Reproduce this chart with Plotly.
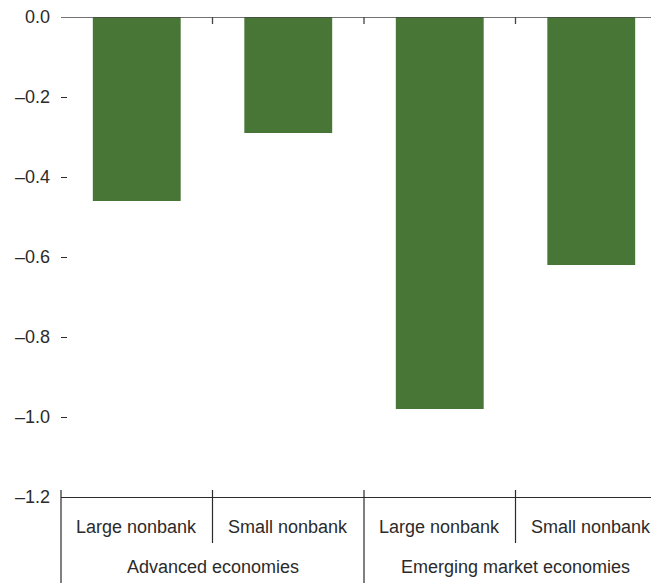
import plotly.graph_objects as go

groups = ["Advanced economies", "Advanced economies",
          "Emerging market economies", "Emerging market economies"]
subcats = ["Large nonbank", "Small nonbank", "Large nonbank", "Small nonbank"]
values = [-0.46, -0.29, -0.98, -0.62]
y_ticks = [0.0, -0.2, -0.4, -0.6, -0.8, -1.0, -1.2]
y_labels = ["0.0", "–0.2", "–0.4", "–0.6", "–0.8", "–1.0", "–1.2"]

BAR = "#487637"
INK = "#2b2b2b"
FONT = "Liberation Sans Narrow, Arial Narrow, sans-serif"
FS = 18

x = list(range(len(values)))

fig = go.Figure(go.Bar(x=x, y=values, width=0.58, marker=dict(color=BAR, line=dict(width=0)),
                       hoverinfo="skip"))

plot_h = 480.0
shapes = []
# top zero line with ticks at category boundaries
shapes.append(dict(type="line", xref="paper", yref="y", x0=0, x1=1, y0=0, y1=0,
                   line=dict(color="#444", width=1.3)))
for i in range(len(x) - 1):
    b = i + 0.5
    shapes.append(dict(type="line", xref="x", yref="y", x0=b, x1=b, y0=0, y1=-7 / 400,
                       line=dict(color="#444", width=1.3)))
    same_group = groups[i] == groups[i + 1]
    depth = 46 if same_group else 94
    shapes.append(dict(type="line", xref="x", yref="paper", x0=b, x1=b, y0=7 / plot_h,
                       y1=-depth / plot_h, line=dict(color=INK, width=1.2)))
# left edge divider for the first group
shapes.append(dict(type="line", xref="paper", yref="paper", x0=0, x1=0, y0=7 / plot_h,
                   y1=-94 / plot_h, line=dict(color=INK, width=1.2)))

annotations = []
for i, s in enumerate(subcats):
    annotations.append(dict(x=i, y=-30 / plot_h, xref="x", yref="paper", text=s,
                            showarrow=False, font=dict(family=FONT, size=FS, color=INK),
                            yanchor="middle"))
seen = []
for g in groups:
    if g not in seen:
        seen.append(g)
for g in seen:
    idx = [i for i, gg in enumerate(groups) if gg == g]
    cx = sum(idx) / len(idx)
    annotations.append(dict(x=cx, y=-70 / plot_h, xref="x", yref="paper", text=g,
                            showarrow=False, font=dict(family=FONT, size=FS, color=INK),
                            yanchor="middle"))

fig.update_layout(
    width=659, height=583,
    margin=dict(l=53, r=0, t=9, b=94),
    paper_bgcolor="white", plot_bgcolor="white",
    showlegend=False,
    shapes=shapes,
    annotations=annotations,
    xaxis=dict(range=[-0.5, 3.5], showticklabels=False, ticks="", showgrid=False,
               zeroline=False, showline=True, linecolor=INK, linewidth=1.3),
    yaxis=dict(range=[-1.2, 0], tickvals=y_ticks, ticktext=y_labels, ticks="inside",
               ticklen=6, tickcolor=INK, tickwidth=1, showgrid=False, zeroline=False,
               showline=False, ticklabelstandoff=10, ticklabeloverflow="allow",
               tickfont=dict(family=FONT, size=FS, color=INK)),
)

fig.write_html("out.html")
